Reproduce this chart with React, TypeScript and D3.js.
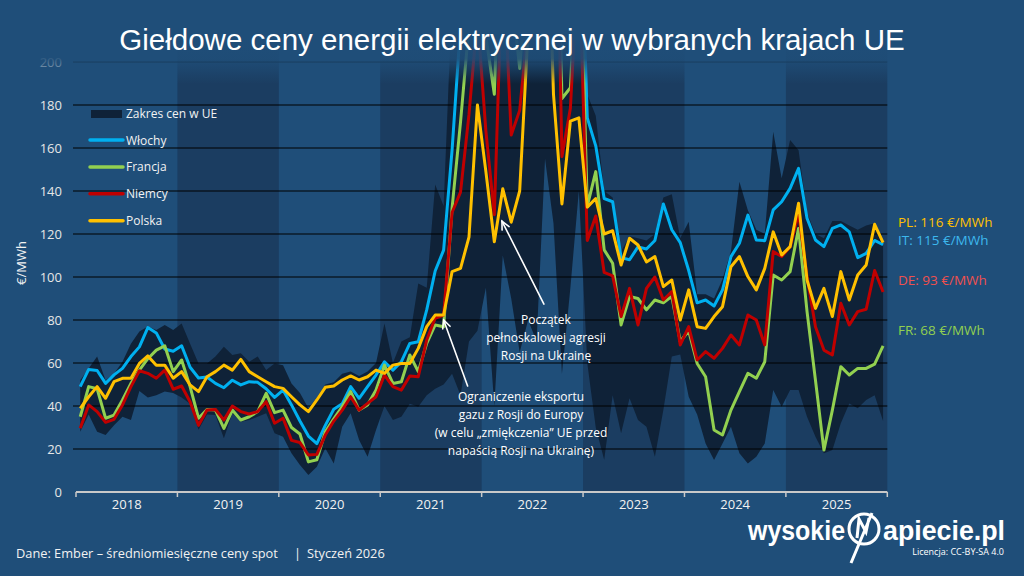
import * as d3 from "d3"

// monthly averages, Jan 2018 .. Dec 2025 (€/MWh)
const years = ["2018", "2019", "2020", "2021", "2022", "2023", "2024", "2025"]
const yTicks = [0, 20, 40, 60, 80, 100, 120, 140, 160, 180, 200]

const italy = [
  49, 57, 56.5, 50.5, 54.5, 57.5, 63, 67.5, 76.5, 74, 66.5, 65.5,
  68, 58, 53, 53.5, 50.5, 48.5, 52, 49.8, 51.3, 51, 48, 44,
  47.4, 40.5, 33, 26, 22.5, 31, 38.5, 41, 49, 43.6, 49, 54.4,
  60.6, 56.7, 60.6, 69.1, 69.9, 84.7, 102.8, 112.5, 159, 217, 226, 281,
  224.5, 211.7, 308, 246, 230, 271, 442, 543, 430, 211.5, 224.5, 295,
  174, 161, 136.5, 135, 109, 108, 114, 113, 117, 134, 122, 116,
  103, 88, 89.3, 86.5, 94, 109.5, 115.7, 128.8, 117.2, 116.9, 131.2, 135,
  141.2, 150.5, 127.3, 117.2, 114.1, 122.6, 124.2, 121, 109, 111, 117, 115,
]
const france = [
  35, 49, 48, 34.3, 35.8, 42.8, 50.5, 56.7, 62, 66, 68, 56,
  61.4, 49, 34.3, 38.4, 38.1, 29.6, 38.1, 33.5, 35, 37.4, 45.9, 36.9,
  38.1, 30, 27, 14, 15, 28, 34, 39.7, 46.7, 38.1, 40.5, 47.4,
  59, 50.5, 51.3, 63.7, 56, 69.1, 77.7, 76.9, 132, 172, 217, 275,
  212, 185, 296, 233, 197, 248, 401, 492, 368, 183, 188, 275,
  133, 149, 112.6, 106.4, 77.7, 90.9, 90, 84.7, 89.3, 88, 91, 70,
  75, 59.8, 53.6, 28.8, 26.5, 38.1, 46.7, 55.2, 52.9, 60.6, 100.9, 98.6,
  102.5, 122.6, 84, 52, 19.5, 38.1, 58.3, 54.4, 57.5, 57.5, 59.5, 68,
]
const germany = [
  29.6, 40.5, 37.4, 32.4, 33.8, 40.5, 49, 56.4, 55.2, 52.9, 56.7, 47.8,
  49.3, 42, 31, 38.1, 38.4, 33.5, 40, 37.4, 36.3, 37.4, 42, 32,
  34.3, 24, 23, 17.2, 17.5, 26.5, 33, 38.1, 44.3, 38.1, 41.2, 44.3,
  54.4, 49, 47.4, 54, 53.6, 70.7, 80.8, 82.3, 130, 139.5, 175.5, 221,
  168, 129, 252, 166, 177.5, 218, 315, 465, 356, 156, 178.5, 253,
  117, 128.4, 102.1, 100.5, 81.6, 94.7, 77.7, 94.7, 100, 89.3, 93.2, 68.4,
  76.9, 61.4, 65.3, 62.2, 66.8, 73, 68.4, 82.3, 80, 68.4, 111.8, 109.5,
  114.1, 129.6, 100.2, 76.9, 66, 63.7, 87.8, 77.7, 83.9, 85, 103, 93,
]
const poland = [
  38.9, 44.3, 49, 43.6, 51.3, 52.9, 52.9, 59.8, 63.3, 59, 59, 52.9,
  56, 49.8, 46.7, 53.6, 56, 59, 56.7, 61.7, 56, 53.6, 51.3, 49,
  48.2, 44.3, 40.5, 37.4, 42.8, 48.7, 49.3, 52.1, 54, 52.1, 53.6, 56.7,
  55.2, 59, 59.8, 59.8, 66.8, 76.9, 82.3, 82.3, 102.5, 104, 118.5, 180,
  149, 116.4, 141, 125.5, 140, 215, 290, 310, 185, 134, 172.5, 174,
  132.5, 136.5, 120, 121.5, 105.6, 118, 114.9, 107, 109.5, 95.5, 98.6, 80,
  94, 76.9, 76.1, 81.6, 86.2, 104.8, 109.5, 100.2, 94, 104, 121, 110.2,
  114.1, 134.3, 98.6, 85.4, 94.7, 81.6, 102.5, 89.3, 100.9, 105.6, 124.5, 116,
]
// price range across EU countries
const euMax = [
  52, 57.5, 63, 52, 55, 60.6, 69, 74.6, 77, 75.3, 77.7, 75.3,
  78.4, 69, 59.8, 59.8, 63, 67.6, 63.7, 64.5, 60.6, 63, 56.7, 59.8,
  59, 50.5, 46, 39, 44, 50, 51, 55, 56, 54, 56, 60,
  78.4, 60, 70, 72, 97, 95, 143, 133, 230, 260, 270, 320,
  300, 260, 400, 300, 280, 330, 480, 560, 470, 260, 270, 330,
  185, 175, 140, 137, 112, 119, 118, 117, 120, 137, 138.5, 118,
  125.7, 92, 92, 90, 99, 112, 144.3, 131, 122, 120, 167.6, 145.9,
  163.7, 159, 130, 120, 118, 126, 126, 124, 122, 124, 125, 117,
]
const euMin = [
  28, 36, 28, 26.5, 31, 35, 33.5, 47, 44, 45, 46.7, 46,
  44, 41, 29, 36, 35.8, 25, 36.6, 32.7, 33.5, 35, 36.6, 27.3,
  25.7, 18, 12.6, 7.9, 11.8, 20.3, 13.3, 30.4, 36.6, 24.2, 16.4, 28.8,
  40, 33.5, 35, 41, 39.7, 45, 48, 50, 55, 45, 70, 75,
  95, 40, 110, 90, 65, 80, 70, 155, 125, 55, 95, 140,
  60, 30, 15, 45, 27.3, 43.6, 33.5, 30.4, 16.4, 38.1, 63, 64,
  44.3, 36, 22.6, 14.9, 22.6, 30.4, 18, 13.3, 16.4, 22.6, 47.4, 39.7,
  47.4, 47.4, 35, 25.7, 18, 19.5, 32, 41.2, 38.9, 42.8, 45, 33,
]

const series = [
  { name: "Włochy", code: "IT", values: italy, color: "#00B0F0" },
  { name: "Francja", code: "FR", values: france, color: "#92D050" },
  { name: "Niemcy", code: "DE", values: germany, color: "#C00000" },
  { name: "Polska", code: "PL", values: poland, color: "#FFC000" },
]

const BG = "#1F4E79"
const BAND = "#1B3D61"
const RANGE = "#0F2238"
const FONT = "'Open Sans', sans-serif"

const W = 1024
const H = 576
const x = d3.scaleLinear().domain([0, 96]).range([76, 887.3])
const y = d3.scaleLinear().domain([0, 200]).range([492, 62])

const line = d3.line<number>().x((_, i) => x(i + 0.5)).y(d => y(d))
const area = d3.area<number>()
  .x((_, i) => x(i + 0.5))
  .y0((_, i) => y(euMin[i]))
  .y1(d => y(d))

// end-of-series labels (last value, label placed at "at")
const endLabels = [
  { code: "PL", value: 116, color: "#FFC000", at: 125.5 },
  { code: "IT", value: 115, color: "#3DB8EE", at: 117.3 },
  { code: "DE", value: 93, color: "#F0504E", at: 98.5 },
  { code: "FR", value: 68, color: "#92D050", at: 75.3 },
]

function Arrow({ x1, y1, x2, y2 }: { x1: number; y1: number; x2: number; y2: number }) {
  const a = Math.atan2(y2 - y1, x2 - x1)
  const len = 9
  const p1 = [x2 - len * Math.cos(a - 0.45), y2 - len * Math.sin(a - 0.45)]
  const p2 = [x2 - len * Math.cos(a + 0.45), y2 - len * Math.sin(a + 0.45)]
  return (
    <g stroke="#fff" strokeWidth={1.6} fill="none" strokeLinecap="round">
      <line x1={x1} y1={y1} x2={x2} y2={y2} />
      <polyline points={`${p1[0]},${p1[1]} ${x2},${y2} ${p2[0]},${p2[1]}`} />
    </g>
  )
}

export default function App() {
  const top = 40
  const bottom = y(0)
  const a1 = { x: x(43.5), y: y(80) }
  const a2 = { x: x(50.4), y: y(126) }

  return (
    <svg width={W} height={H} style={{ position: "absolute", left: 0, top: 0, display: "block" }}
      fontFamily={FONT}>
      <defs>
        <clipPath id="plot">
          <rect x={x(0)} y={top} width={x(96) - x(0)} height={bottom - top} />
        </clipPath>
        <linearGradient id="fade" x1="0" y1="0" x2="0" y2="1">
          <stop offset="0" stopColor={BG} stopOpacity={1} />
          <stop offset="0.55" stopColor={BG} stopOpacity={0.9} />
          <stop offset="1" stopColor={BG} stopOpacity={0} />
        </linearGradient>
      </defs>
      <rect width={W} height={H} fill={BG} />

      {/* alternate year bands */}
      {years.map((yr, k) => k % 2 === 1 && (
        <rect key={yr} x={x(k * 12)} y={top} width={x(k * 12 + 12) - x(k * 12)} height={bottom - top} fill={BAND} />
      ))}

      <g clipPath="url(#plot)">
        <path d={area(euMax) ?? ""} fill={RANGE} />
      </g>

      {/* gridlines */}
      {yTicks.filter(t => t > 0).map(t => (
        <line key={t} x1={73} x2={x(96)} y1={y(t)} y2={y(t)} stroke="#000" strokeWidth={1} />
      ))}

      <g clipPath="url(#plot)">
        {series.map(s => (
          <path key={s.code} d={line(s.values) ?? ""} fill="none" stroke={s.color} strokeWidth={3}
            strokeLinejoin="round" />
        ))}
      </g>

      {/* x axis */}
      <line x1={x(0)} x2={x(96)} y1={bottom} y2={bottom} stroke="#C9C9C9" strokeWidth={2} />
      {d3.range(0, 97, 12).map(m => (
        <line key={m} x1={x(m)} x2={x(m)} y1={bottom} y2={bottom + 5} stroke="#C9C9C9" strokeWidth={1.5} />
      ))}
      {years.map((yr, k) => (
        <text key={yr} x={x(k * 12 + 6)} y={bottom + 17} textAnchor="middle" fontSize={13} fill="#F2F2F2">{yr}</text>
      ))}

      {/* y axis */}
      {yTicks.map(t => (
        <text key={t} x={62} y={y(t) + 4.5} textAnchor="end" fontSize={13} fill="#E6E6E6">{t}</text>
      ))}
      <text transform="translate(26,263) rotate(-90)" textAnchor="middle" fontSize={13} fill="#F2F2F2">€/MWh</text>

      {/* fade at top of plot */}
      <rect x={0} y={28} width={W} height={56} fill="url(#fade)" />

      {/* legend */}
      <g fontSize={12} fill="#F2F2F2">
        <rect x={91} y={110} width={31} height={8} fill={RANGE} />
        <text x={126} y={118}>Zakres cen w UE</text>
        {series.map((s, i) => (
          <g key={s.code} transform={`translate(0,${140 + i * 26.9})`}>
            <line x1={90} x2={123} y1={0} y2={0} stroke={s.color} strokeWidth={3.5} strokeLinecap="round" />
            <text x={126} y={4.5}>{s.name}</text>
          </g>
        ))}
      </g>

      {/* end labels */}
      {endLabels.map(l => (
        <text key={l.code} x={898} y={y(l.at) + 5} fontSize={13.5} fill={l.color}>{`${l.code}: ${l.value} €/MWh`}</text>
      ))}

      {/* annotations */}
      <Arrow x1={a1.x + 24} y1={a1.y + 66} x2={a1.x} y2={a1.y} />
      <g fontSize={12} fill="#fff" textAnchor="middle">
        <text x={521} y={401}>Ograniczenie eksportu</text>
        <text x={521} y={419}>gazu z Rosji do Europy</text>
        <text x={521} y={437}>(w celu „zmiękczenia” UE przed</text>
        <text x={521} y={455}>napaścią Rosji na Ukrainę)</text>
      </g>
      <Arrow x1={a2.x + 42} y1={a2.y + 83} x2={a2.x} y2={a2.y} />
      <g fontSize={12} fill="#fff" textAnchor="middle">
        <text x={546} y={324}>Początek</text>
        <text x={546} y={342}>pełnoskalowej agresji</text>
        <text x={546} y={360}>Rosji na Ukrainę</text>
      </g>

      {/* title */}
      <text x={512} y={50} textAnchor="middle" fontSize={29.5} fill="#fff"
        fontFamily="'Liberation Sans', Arial, sans-serif">Giełdowe ceny energii elektrycznej w wybranych krajach UE</text>

      {/* footer */}
      <g fontSize={12.8} fill="#F2F2F2">
        <text x={16} y={558}>Dane: Ember – średniomiesięczne ceny spot</text>
        <text x={294} y={558}>|</text>
        <text x={307} y={558}>Styczeń 2026</text>
      </g>

      {/* logo */}
      <g fill="#fff" fontFamily="'Liberation Sans', Arial, sans-serif" fontWeight={700}>
        <text x={748} y={540} fontSize={28} textLength={97} lengthAdjust="spacingAndGlyphs">wysokie</text>
        <circle cx={864} cy={529} r={15} fill="none" stroke="#fff" strokeWidth={3} />
        <path d="M857,538 L859,519 L866,532 L869,518 M872,513 L851,563" fill="none" stroke="#fff" strokeWidth={3} />
        <text x={883} y={540} fontSize={28} textLength={122} lengthAdjust="spacingAndGlyphs">apiecie.pl</text>
      </g>
      <text x={1004} y={555} textAnchor="end" fontSize={9} fill="#fff">Licencja: CC-BY-SA 4.0</text>
    </svg>
  )
}
